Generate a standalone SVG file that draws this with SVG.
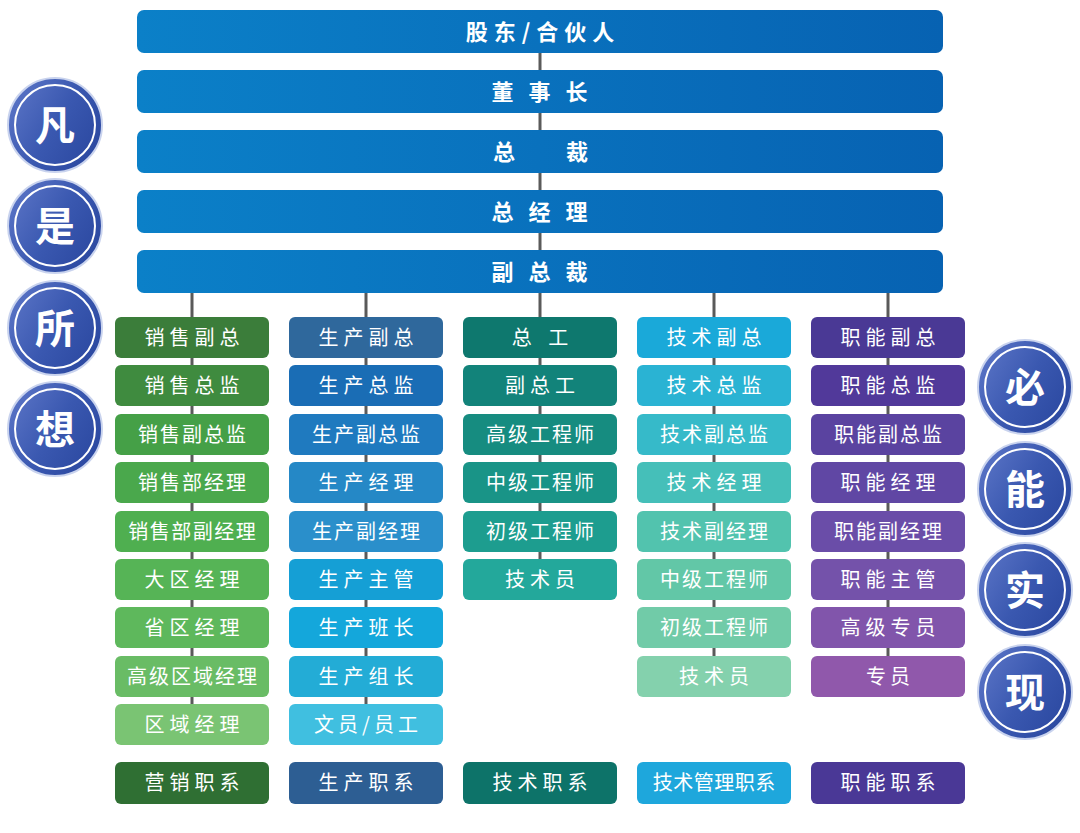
<svg xmlns="http://www.w3.org/2000/svg" width="1080" height="833" viewBox="0 0 1080 833">
<defs>
<linearGradient id="barG" x1="0" y1="0" x2="1" y2="0">
<stop offset="0" stop-color="#0b80c8"/>
<stop offset="1" stop-color="#0762b2"/>
</linearGradient>
<linearGradient id="cirG" x1="0" y1="0.2" x2="1" y2="0.8">
<stop offset="0" stop-color="#5a74c6"/>
<stop offset="0.5" stop-color="#3a58b0"/>
<stop offset="1" stop-color="#2a479f"/>
</linearGradient>
<style>
.bar{fill:url(#barG)}
.bt{fill:#fff;font-family:"Noto Sans CJK SC","Noto Sans",sans-serif;font-size:22px;font-weight:bold;text-anchor:middle}
.bx{}
.t{fill:#fff;font-family:"Noto Sans CJK SC","Noto Sans",sans-serif;font-size:20px;text-anchor:middle}
.cir{fill:url(#cirG);stroke:#c9d3ee;stroke-width:2}
.ring{fill:none;stroke:#ffffff;stroke-width:2}
.ct{fill:#fff;font-family:"Noto Sans CJK SC",sans-serif;font-size:40px;font-weight:bold;text-anchor:middle}
.ln{stroke:#5a5a5a;stroke-width:3;fill:none}
</style>
</defs>
<rect width="1080" height="833" fill="#ffffff"/>

<g id="connectors">
<line class="ln" x1="540" y1="50" x2="540" y2="255"/>
<line class="ln" x1="192" y1="290" x2="192" y2="706"/>
<line class="ln" x1="366" y1="290" x2="366" y2="706"/>
<line class="ln" x1="540" y1="290" x2="540" y2="561"/>
<line class="ln" x1="714" y1="290" x2="714" y2="658"/>
<line class="ln" x1="888" y1="290" x2="888" y2="658"/>
</g>

<g id="bar-shareholders"><rect class="bar" x="137" y="10" width="806" height="43" rx="7"/><text class="bt" x="543" y="40" letter-spacing="6">股东/合伙人</text></g>
<g id="bar-chairman"><rect class="bar" x="137" y="70" width="806" height="43" rx="7"/><text class="bt" x="542" y="100" letter-spacing="5">董 事 长</text></g>
<g id="bar-president"><rect class="bar" x="137" y="130" width="806" height="43" rx="7"/><text class="bt" x="552" y="160" letter-spacing="23">总 裁</text></g>
<g id="bar-gm"><rect class="bar" x="137" y="190" width="806" height="43" rx="7"/><text class="bt" x="542" y="220" letter-spacing="5">总 经 理</text></g>
<g id="bar-vp"><rect class="bar" x="137" y="250" width="806" height="43" rx="7"/><text class="bt" x="542" y="280" letter-spacing="5">副 总 裁</text></g>

<g id="circles-left">
<g id="c-fan"><circle class="cir" cx="55" cy="125" r="47"/><circle class="ring" cx="55" cy="125" r="40"/><text class="ct" x="55" y="140">凡</text></g>
<g id="c-shi"><circle class="cir" cx="55" cy="226" r="47"/><circle class="ring" cx="55" cy="226" r="40"/><text class="ct" x="55" y="241">是</text></g>
<g id="c-suo"><circle class="cir" cx="55" cy="328" r="47"/><circle class="ring" cx="55" cy="328" r="40"/><text class="ct" x="55" y="343">所</text></g>
<g id="c-xiang"><circle class="cir" cx="55" cy="429" r="47"/><circle class="ring" cx="55" cy="429" r="40"/><text class="ct" x="55" y="444">想</text></g>
</g>
<g id="circles-right">
<g id="c-bi"><circle class="cir" cx="1025" cy="387" r="47"/><circle class="ring" cx="1025" cy="387" r="40"/><text class="ct" x="1025" y="402">必</text></g>
<g id="c-neng"><circle class="cir" cx="1025" cy="489" r="47"/><circle class="ring" cx="1025" cy="489" r="40"/><text class="ct" x="1025" y="504">能</text></g>
<g id="c-shi2"><circle class="cir" cx="1025" cy="590" r="47"/><circle class="ring" cx="1025" cy="590" r="40"/><text class="ct" x="1025" y="605">实</text></g>
<g id="c-xian"><circle class="cir" cx="1025" cy="692" r="47"/><circle class="ring" cx="1025" cy="692" r="40"/><text class="ct" x="1025" y="707">现</text></g>
</g>

<g id="col-sales">
<g id="s1"><rect x="115" y="317" width="154" height="41" rx="6" fill="#3b7d3a"/><text class="t" x="194.5" y="345" letter-spacing="5">销售副总</text></g>
<g id="s2"><rect x="115" y="365" width="154" height="41" rx="6" fill="#3f8b3f"/><text class="t" x="194.5" y="393" letter-spacing="5">销售总监</text></g>
<g id="s3"><rect x="115" y="414" width="154" height="41" rx="6" fill="#45a047"/><text class="t" x="193" y="442" letter-spacing="2">销售副总监</text></g>
<g id="s4"><rect x="115" y="462" width="154" height="41" rx="6" fill="#4aa84c"/><text class="t" x="193" y="490" letter-spacing="2">销售部经理</text></g>
<g id="s5"><rect x="115" y="511" width="154" height="41" rx="6" fill="#4faf50"/><text class="t" x="192.8" y="539" letter-spacing="1.5">销售部副经理</text></g>
<g id="s6"><rect x="115" y="559" width="154" height="41" rx="6" fill="#56b456"/><text class="t" x="194.5" y="587" letter-spacing="5">大区经理</text></g>
<g id="s7"><rect x="115" y="607" width="154" height="41" rx="6" fill="#5eb85c"/><text class="t" x="194.5" y="635" letter-spacing="5">省区经理</text></g>
<g id="s8"><rect x="115" y="656" width="154" height="41" rx="6" fill="#69bc65"/><text class="t" x="193" y="684" letter-spacing="2">高级区域经理</text></g>
<g id="s9"><rect x="115" y="704" width="154" height="41" rx="6" fill="#7ac473"/><text class="t" x="194.5" y="732" letter-spacing="5">区域经理</text></g>
<g id="s-cat"><rect x="115" y="762" width="154" height="42" rx="6" fill="#2f6f33"/><text class="t" x="194.5" y="790" letter-spacing="5">营销职系</text></g>
</g>

<g id="col-production">
<g id="p1"><rect x="289" y="317" width="154" height="41" rx="6" fill="#2f689c"/><text class="t" x="368.5" y="345" letter-spacing="5">生产副总</text></g>
<g id="p2"><rect x="289" y="365" width="154" height="41" rx="6" fill="#1a6db5"/><text class="t" x="368.5" y="393" letter-spacing="5">生产总监</text></g>
<g id="p3"><rect x="289" y="414" width="154" height="41" rx="6" fill="#1f7abf"/><text class="t" x="367" y="442" letter-spacing="2">生产副总监</text></g>
<g id="p4"><rect x="289" y="462" width="154" height="41" rx="6" fill="#2588c6"/><text class="t" x="368.5" y="490" letter-spacing="5">生产经理</text></g>
<g id="p5"><rect x="289" y="511" width="154" height="41" rx="6" fill="#2a8fcb"/><text class="t" x="367" y="539" letter-spacing="2">生产副经理</text></g>
<g id="p6"><rect x="289" y="559" width="154" height="41" rx="6" fill="#159fd5"/><text class="t" x="368.5" y="587" letter-spacing="5">生产主管</text></g>
<g id="p7"><rect x="289" y="607" width="154" height="41" rx="6" fill="#14a7db"/><text class="t" x="368.5" y="635" letter-spacing="5">生产班长</text></g>
<g id="p8"><rect x="289" y="656" width="154" height="41" rx="6" fill="#23acd6"/><text class="t" x="368.5" y="684" letter-spacing="5">生产组长</text></g>
<g id="p9"><rect x="289" y="704" width="154" height="41" rx="6" fill="#40bfe0"/><text class="t" x="368" y="732" letter-spacing="4">文员/员工</text></g>
<g id="p-cat"><rect x="289" y="762" width="154" height="42" rx="6" fill="#2d5e93"/><text class="t" x="368.5" y="790" letter-spacing="5">生产职系</text></g>
</g>

<g id="col-tech">
<g id="t1"><rect x="463" y="317" width="154" height="41" rx="6" fill="#0e786e"/><text class="t" x="543" y="345" letter-spacing="6">总 工</text></g>
<g id="t2"><rect x="463" y="365" width="154" height="41" rx="6" fill="#12837a"/><text class="t" x="542.5" y="393" letter-spacing="5">副总工</text></g>
<g id="t3"><rect x="463" y="414" width="154" height="41" rx="6" fill="#168c80"/><text class="t" x="541" y="442" letter-spacing="2">高级工程师</text></g>
<g id="t4"><rect x="463" y="462" width="154" height="41" rx="6" fill="#199487"/><text class="t" x="541" y="490" letter-spacing="2">中级工程师</text></g>
<g id="t5"><rect x="463" y="511" width="154" height="41" rx="6" fill="#1d9d8f"/><text class="t" x="541" y="539" letter-spacing="2">初级工程师</text></g>
<g id="t6"><rect x="463" y="559" width="154" height="41" rx="6" fill="#23a89b"/><text class="t" x="542.5" y="587" letter-spacing="5">技术员</text></g>
<g id="t-cat"><rect x="463" y="762" width="154" height="42" rx="6" fill="#0d7369"/><text class="t" x="542.5" y="790" letter-spacing="5">技术职系</text></g>
</g>

<g id="col-techmgmt">
<g id="m1"><rect x="637" y="317" width="154" height="41" rx="6" fill="#1aa9d9"/><text class="t" x="716.5" y="345" letter-spacing="5">技术副总</text></g>
<g id="m2"><rect x="637" y="365" width="154" height="41" rx="6" fill="#2ab3d3"/><text class="t" x="716.5" y="393" letter-spacing="5">技术总监</text></g>
<g id="m3"><rect x="637" y="414" width="154" height="41" rx="6" fill="#36bac9"/><text class="t" x="715" y="442" letter-spacing="2">技术副总监</text></g>
<g id="m4"><rect x="637" y="462" width="154" height="41" rx="6" fill="#45bfb9"/><text class="t" x="716.5" y="490" letter-spacing="5">技术经理</text></g>
<g id="m5"><rect x="637" y="511" width="154" height="41" rx="6" fill="#52c3ae"/><text class="t" x="715" y="539" letter-spacing="2">技术副经理</text></g>
<g id="m6"><rect x="637" y="559" width="154" height="41" rx="6" fill="#62c7a7"/><text class="t" x="715" y="587" letter-spacing="2">中级工程师</text></g>
<g id="m7"><rect x="637" y="607" width="154" height="41" rx="6" fill="#71cba8"/><text class="t" x="715" y="635" letter-spacing="2">初级工程师</text></g>
<g id="m8"><rect x="637" y="656" width="154" height="41" rx="6" fill="#84d1ad"/><text class="t" x="716.5" y="684" letter-spacing="5">技术员</text></g>
<g id="m-cat"><rect x="637" y="762" width="154" height="42" rx="6" fill="#1ea7dc"/><text class="t" x="714.3" y="790" letter-spacing="0.5">技术管理职系</text></g>
</g>

<g id="col-function">
<g id="f1"><rect x="811" y="317" width="154" height="41" rx="6" fill="#4a3995"/><text class="t" x="890.5" y="345" letter-spacing="5">职能副总</text></g>
<g id="f2"><rect x="811" y="365" width="154" height="41" rx="6" fill="#51399a"/><text class="t" x="890.5" y="393" letter-spacing="5">职能总监</text></g>
<g id="f3"><rect x="811" y="414" width="154" height="41" rx="6" fill="#5a43a0"/><text class="t" x="889" y="442" letter-spacing="2">职能副总监</text></g>
<g id="f4"><rect x="811" y="462" width="154" height="41" rx="6" fill="#6047a4"/><text class="t" x="890.5" y="490" letter-spacing="5">职能经理</text></g>
<g id="f5"><rect x="811" y="511" width="154" height="41" rx="6" fill="#6a4da8"/><text class="t" x="889" y="539" letter-spacing="2">职能副经理</text></g>
<g id="f6"><rect x="811" y="559" width="154" height="41" rx="6" fill="#7452aa"/><text class="t" x="890.5" y="587" letter-spacing="5">职能主管</text></g>
<g id="f7"><rect x="811" y="607" width="154" height="41" rx="6" fill="#8155ab"/><text class="t" x="890.5" y="635" letter-spacing="5">高级专员</text></g>
<g id="f8"><rect x="811" y="656" width="154" height="41" rx="6" fill="#9058ab"/><text class="t" x="890" y="684" letter-spacing="4">专员</text></g>
<g id="f-cat"><rect x="811" y="762" width="154" height="42" rx="6" fill="#4a3896"/><text class="t" x="890.5" y="790" letter-spacing="5">职能职系</text></g>
</g>
</svg>
